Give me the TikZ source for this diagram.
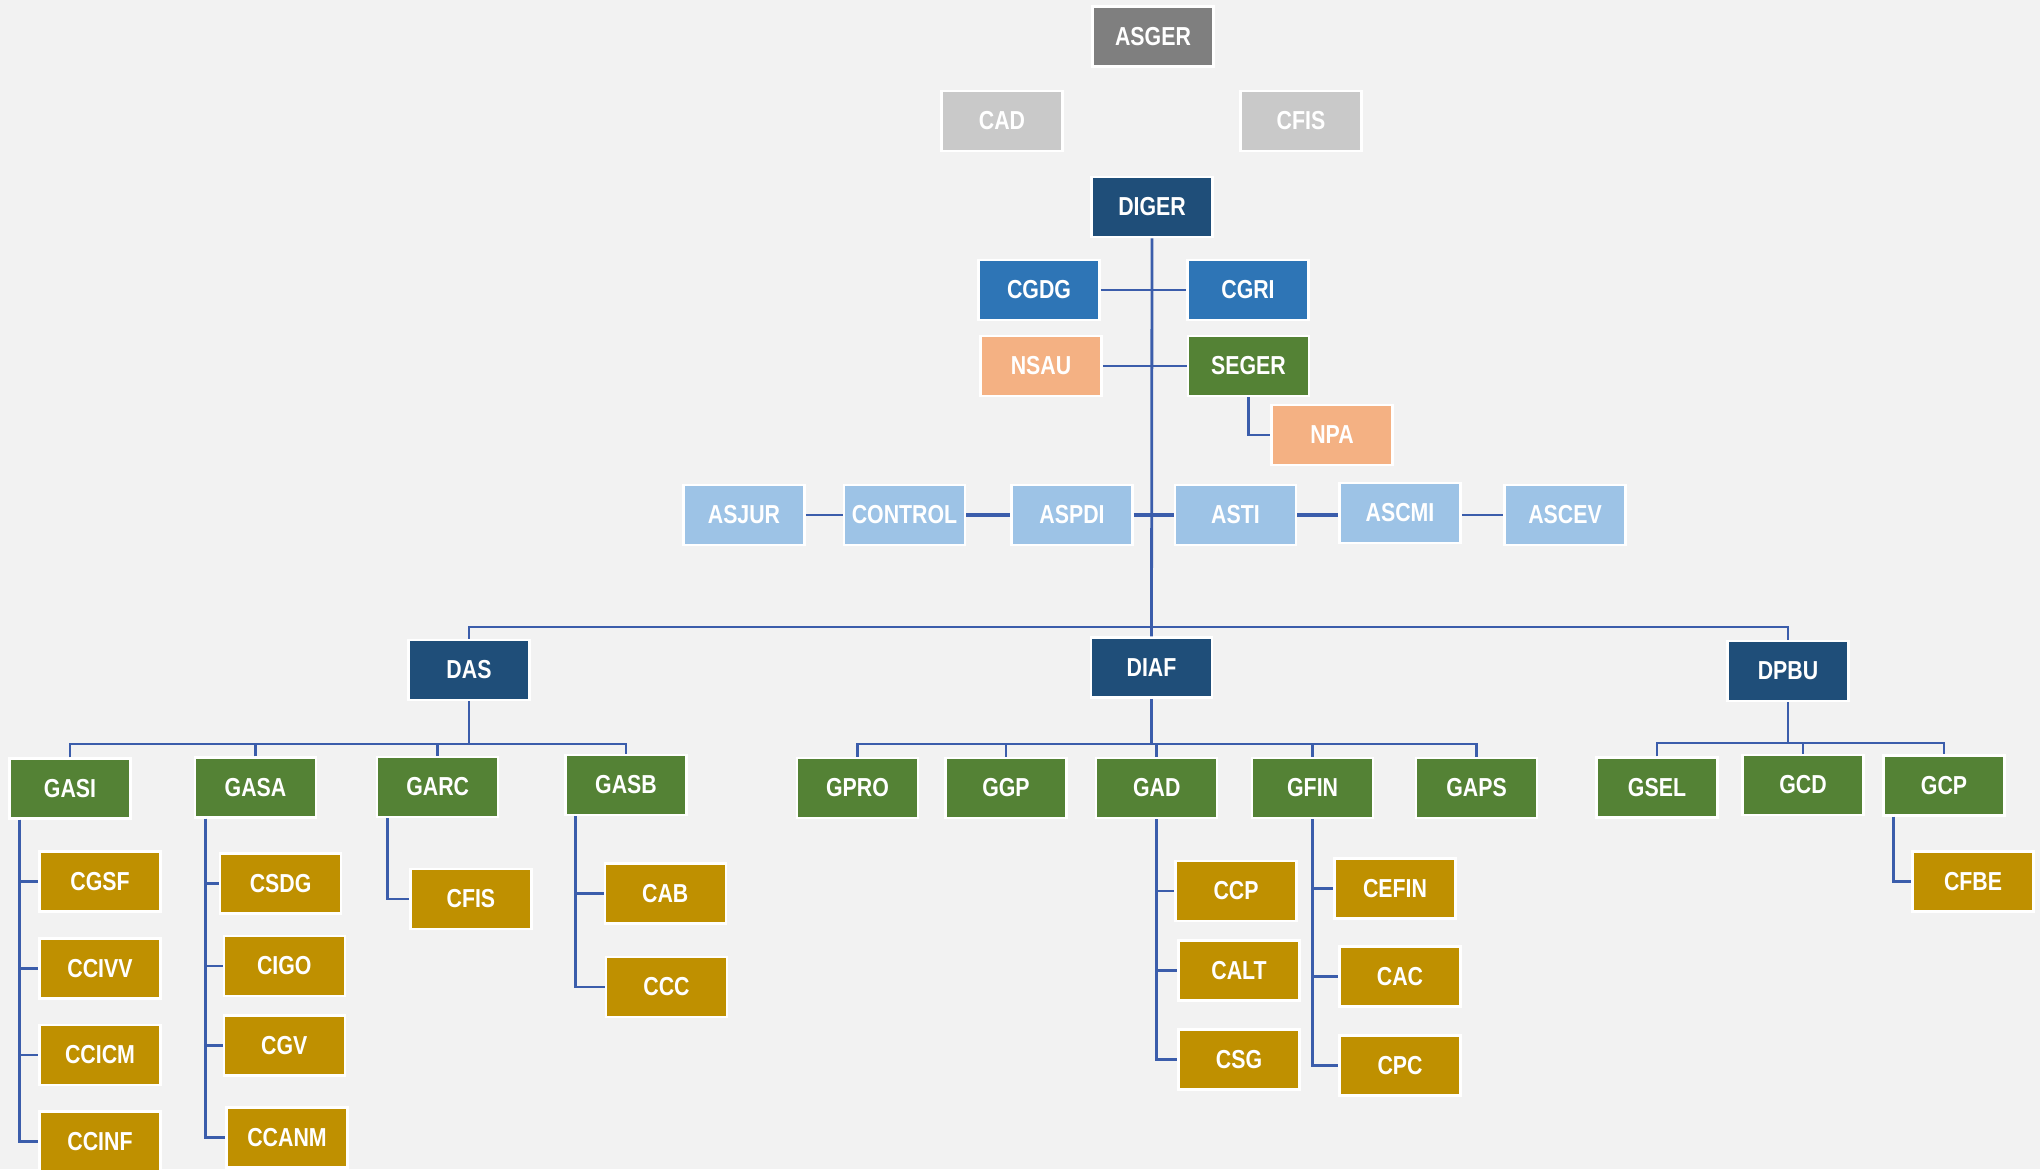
\documentclass[tikz,border=0pt]{standalone}
\usepackage{fontspec}
\setmainfont{Liberation Sans}[FakeStretch=0.82]
\definecolor{bgc}{HTML}{F2F2F2}
\definecolor{cgray}{HTML}{7F7F7F}
\definecolor{clgray}{HTML}{C9C9C9}
\definecolor{cdblue}{HTML}{1F4E79}
\definecolor{cmblue}{HTML}{2E75B6}
\definecolor{clblue}{HTML}{9DC3E6}
\definecolor{cpeach}{HTML}{F4B183}
\definecolor{cgreen}{HTML}{548235}
\definecolor{cgold}{HTML}{BF9000}
\definecolor{linec}{HTML}{3B5DAB}
\tikzset{
  box/.style={draw=white, line width=1.25pt, minimum width=60.5pt, minimum height=30pt,
    inner sep=0pt, text=white, font=\fontsize{13}{15}\selectfont\bfseries},
  graybox/.style={box, fill=cgray},
  lgraybox/.style={box, fill=clgray},
  dirbox/.style={box, fill=cdblue},
  mbluebox/.style={box, fill=cmblue},
  lbluebox/.style={box, fill=clblue},
  peachbox/.style={box, fill=cpeach},
  greenbox/.style={box, fill=cgreen},
  goldbox/.style={box, fill=cgold},
  conn/.style={draw=linec, line width=1.4pt},
  connthick/.style={draw=linec, line width=2.4pt},
}
\begin{document}
\begin{tikzpicture}[x=0.5pt,y=-0.5pt]
\fill[bgc] (0,0) rectangle (2040,1169);
\useasboundingbox (0,0) rectangle (2040,1169);

\coordinate (mainbus) at (0,627);
\coordinate (dasbus) at (0,744);
\coordinate (diafbus) at (0,744);
\coordinate (dpbubus) at (0,743);

% top
\node[graybox] (asger) at (1153,36.5) {ASGER};
\node[lgraybox] (cad) at (1002,121) {CAD};
\node[lgraybox] (cfisa) at (1301,121) {CFIS};
\node[dirbox] (diger) at (1152,207) {DIGER};
\node[mbluebox] (cgdg) at (1039,290) {CGDG};
\node[mbluebox] (cgri) at (1248,290) {CGRI};
\node[peachbox] (nsau) at (1041,366) {NSAU};
\node[greenbox] (seger) at (1248.5,366) {SEGER};
\node[peachbox] (npa) at (1332,435) {NPA};
\node[lbluebox] (asjur) at (744,515) {ASJUR};
\node[lbluebox] (control) at (904.5,515) {CONTROL};
\node[lbluebox] (aspdi) at (1072,515) {ASPDI};
\node[lbluebox] (asti) at (1235.5,515) {ASTI};
\node[lbluebox] (ascmi) at (1400,513) {ASCMI};
\node[lbluebox] (ascev) at (1565,515) {ASCEV};

% directions
\node[dirbox] (das) at (469,670) {DAS};
\node[dirbox] (diaf) at (1151.5,667.5) {DIAF};
\node[dirbox] (dpbu) at (1788,671) {DPBU};

% DAS
\node[greenbox] (gasi) at (70,788.5) {GASI};
\node[greenbox] (gasa) at (255.5,787.7) {GASA};
\node[greenbox] (garc) at (437.7,787) {GARC};
\node[greenbox] (gasb) at (626,785) {GASB};
\node[goldbox] (cgsf) at (100,881.5) {CGSF};
\node[goldbox] (ccivv) at (100,968.3) {CCIVV};
\node[goldbox] (ccicm) at (100,1055) {CCICM};
\node[goldbox] (ccinf) at (100,1141.6) {CCINF};
\node[goldbox] (csdg) at (280.6,883.7) {CSDG};
\node[goldbox] (cigo) at (284.3,966) {CIGO};
\node[goldbox] (cgv) at (284.3,1045.5) {CGV};
\node[goldbox] (ccanm) at (287,1137.7) {CCANM};
\node[goldbox] (cfisb) at (470.9,899) {CFIS};
\node[goldbox] (cab) at (665.3,893.6) {CAB};
\node[goldbox] (ccc) at (666.5,987) {CCC};

% DIAF
\node[greenbox] (gpro) at (857.5,788) {GPRO};
\node[greenbox] (ggp) at (1006,788) {GGP};
\node[greenbox] (gad) at (1156.7,788) {GAD};
\node[greenbox] (gfin) at (1312.6,788) {GFIN};
\node[greenbox] (gaps) at (1476.6,788) {GAPS};
\node[goldbox] (ccp) at (1236,891) {CCP};
\node[goldbox] (calt) at (1239,970.5) {CALT};
\node[goldbox] (csg) at (1239,1059.5) {CSG};
\node[goldbox] (cefin) at (1395,888.3) {CEFIN};
\node[goldbox] (cac) at (1400,976.7) {CAC};
\node[goldbox] (cpc) at (1400,1065.5) {CPC};

% DPBU
\node[greenbox] (gsel) at (1657,787.5) {GSEL};
\node[greenbox] (gcd) at (1803,785) {GCD};
\node[greenbox] (gcp) at (1944,785.3) {GCP};
\node[goldbox] (cfbe) at (1973,881.3) {CFBE};

% ---- connectors ----
\draw[conn] (diger.south) -- (diaf.north);
\draw[conn] (cgdg.east) -- (cgri.west);
\draw[conn] (nsau.east) -- (seger.west);
\draw[conn] (seger.south) |- (npa.west);
\draw[conn] (asjur.east) -- (control.west);
\draw[connthick] (control.east) -- (aspdi.west);
\draw[connthick] (aspdi.east) -- (asti.west);
\draw[connthick] (asti.east) -- (asti.east -| ascmi.west);
\draw[conn] (ascmi.east |- ascev.west) -- (ascev.west);

\draw[conn] (das.north) -- (das.north |- mainbus) -- (dpbu.north |- mainbus) -- (dpbu.north);

% DAS tree
\draw[conn] (das.south) -- (das.south |- dasbus);
\draw[conn] (gasi.north) -- (gasi.north |- dasbus) -- (gasb.north |- dasbus) -- (gasb.north);
\draw[conn] (gasa.north) -- (gasa.north |- dasbus);
\draw[conn] (garc.north) -- (garc.north |- dasbus);
\foreach \c in {cgsf,ccivv,ccicm,ccinf}
  \draw[conn] ([xshift=5.5pt]gasi.south west) |- (\c.west);
\foreach \c in {csdg,cigo,cgv,ccanm}
  \draw[conn] ([xshift=5.8pt]gasa.south west) |- (\c.west);
\draw[conn] ([xshift=5.6pt]garc.south west) |- (cfisb.west);
\foreach \c in {cab,ccc}
  \draw[conn] ([xshift=5.5pt]gasb.south west) |- (\c.west);

% DIAF tree
\draw[conn] (diaf.south) -- (diaf.south |- diafbus);
\draw[conn] (gpro.north) -- (gpro.north |- diafbus) -- (gaps.north |- diafbus) -- (gaps.north);
\draw[conn] (ggp.north) -- (ggp.north |- diafbus);
\draw[conn] (gad.north) -- (gad.north |- diafbus);
\draw[conn] (gfin.north) -- (gfin.north |- diafbus);
\foreach \c in {ccp,calt,csg}
  \draw[conn] (gad.south) |- (\c.west);
\foreach \c in {cefin,cac,cpc}
  \draw[conn] (gfin.south) |- (\c.west);

% DPBU tree
\draw[conn] (dpbu.south) -- (dpbu.south |- dpbubus);
\draw[conn] (gsel.north) -- (gsel.north |- dpbubus) -- (gcp.north |- dpbubus) -- (gcp.north);
\draw[conn] (gcd.north) -- (gcd.north |- dpbubus);
\draw[conn] ([xshift=5.8pt]gcp.south west) |- (cfbe.west);
\end{tikzpicture}
\end{document}
